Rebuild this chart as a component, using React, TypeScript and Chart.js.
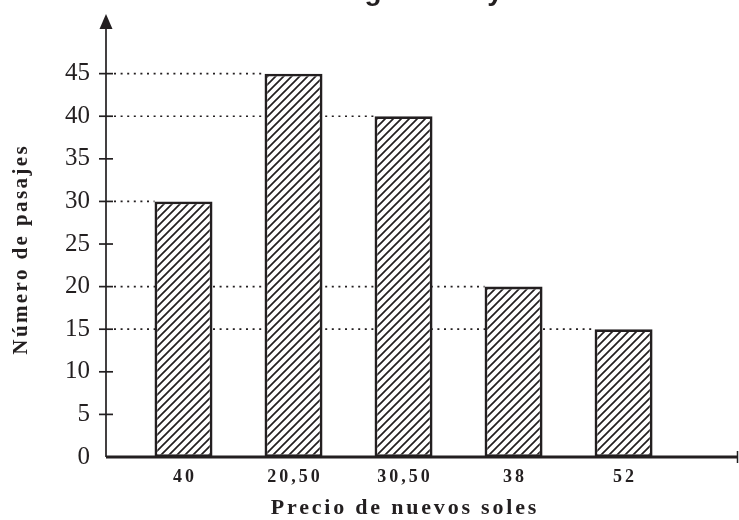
import React, { useEffect, useRef } from "react";
import { Chart, registerables } from "chart.js";

Chart.register(...registerables);

const categories = ["40", "20,50", "30,50", "38", "52"];
const pasajes = [30, 45, 40, 20, 15];
const yMaxTick = 45;
const chartTitle = "Ventas según mes y año";
const xTitle = "Precio de nuevos soles";
const yTitle = "Número de pasajes";

const INK = "#231f20";

function makeHatch(): CanvasPattern | string {
  const c = document.createElement("canvas");
  c.width = 8;
  c.height = 8;
  const g = c.getContext("2d");
  if (!g) return "#fff";
  g.fillStyle = "#ffffff";
  g.fillRect(0, 0, 8, 8);
  g.strokeStyle = INK;
  g.lineWidth = 1.7;
  g.beginPath();
  g.moveTo(-2, 10);
  g.lineTo(10, -2);
  g.moveTo(-2, 2);
  g.lineTo(2, -2);
  g.moveTo(6, 10);
  g.lineTo(10, 6);
  g.stroke();
  const p = g.createPattern(c, "repeat");
  return p || "#fff";
}

const decorPlugin = {
  id: "decor",
  beforeDatasetsDraw(chart: any) {
    const { ctx, chartArea } = chart;
    const meta = chart.getDatasetMeta(0);
    ctx.save();
    ctx.strokeStyle = INK;
    ctx.lineWidth = 1.7;
    ctx.setLineDash([2, 4.6]);
    meta.data.forEach((el: any) => {
      const p = el.getProps(["x", "y", "width"], true);
      ctx.beginPath();
      ctx.moveTo(chartArea.left + 8, p.y);
      ctx.lineTo(p.x - p.width / 2, p.y);
      ctx.stroke();
    });
    ctx.restore();
  },
  afterDatasetsDraw(chart: any) {
    const { ctx, chartArea, scales } = chart;
    const { left, right, top, bottom } = chartArea;
    const yS = scales.y;
    const xS = scales.x;
    ctx.save();
    ctx.strokeStyle = INK;
    ctx.fillStyle = INK;
    // y axis
    ctx.lineWidth = 1.7;
    ctx.beginPath();
    ctx.moveTo(left, bottom);
    ctx.lineTo(left, top + 10);
    ctx.stroke();
    ctx.beginPath();
    ctx.moveTo(left, top);
    ctx.lineTo(left - 6.5, top + 15);
    ctx.lineTo(left + 6.5, top + 15);
    ctx.closePath();
    ctx.fill();
    // y tick marks
    yS.ticks.forEach((t: any) => {
      if (t.value <= 0) return;
      const y = yS.getPixelForValue(t.value);
      ctx.beginPath();
      ctx.moveTo(left - 7, y);
      ctx.lineTo(left + 7, y);
      ctx.stroke();
    });
    // x axis
    ctx.lineWidth = 3;
    ctx.beginPath();
    ctx.moveTo(left, bottom);
    ctx.lineTo(right, bottom);
    ctx.stroke();
    ctx.lineWidth = 1.5;
    ctx.beginPath();
    ctx.moveTo(right - 0.5, bottom - 6);
    ctx.lineTo(right - 0.5, bottom + 6);
    ctx.stroke();
    // x labels
    const sp = 3;
    ctx.font = "bold 18px 'Liberation Serif'";
    (ctx as any).letterSpacing = sp + "px";
    ctx.textAlign = "center";
    ctx.textBaseline = "middle";
    categories.forEach((c, i) => {
      const x = xS.getPixelForValue(i + 1);
      ctx.fillText(c, x + sp / 2, bottom + 20);
    });
    // x title
    const first = xS.getPixelForValue(1);
    const last = xS.getPixelForValue(categories.length);
    ctx.font = "bold 22px 'Liberation Serif'";
    (ctx as any).letterSpacing = "2.8px";
    ctx.fillText(xTitle, (first + last) / 2 + 1.4, bottom + 51);
    // y title
    ctx.save();
    ctx.translate(22, (top + bottom) / 2 + 15);
    ctx.rotate(-Math.PI / 2);
    ctx.font = "bold 21px 'Liberation Serif'";
    (ctx as any).letterSpacing = "2.4px";
    ctx.fillText(yTitle, 1.2, 0);
    ctx.restore();
    // chart title (cut off at top)
    (ctx as any).letterSpacing = "0px";
    ctx.font = "bold 28px 'Liberation Sans'";
    ctx.textAlign = "left";
    ctx.textBaseline = "alphabetic";
    const gi = chartTitle.indexOf("g");
    const pre = ctx.measureText(chartTitle.slice(0, gi)).width;
    const gw = ctx.measureText("g").width;
    ctx.fillText(chartTitle, 373 - pre - gw / 2, 0);
    ctx.restore();
  },
};

export default function App() {
  const ref = useRef<HTMLCanvasElement | null>(null);
  useEffect(() => {
    if (!ref.current) return;
    const hatch = makeHatch();
    const chart = new Chart(ref.current, {
      type: "bar",
      data: {
        datasets: [
          {
            data: pasajes.map((v, i) => ({ x: i + 1, y: v })),
            backgroundColor: hatch as any,
            borderColor: INK,
            borderWidth: 2.8,
            borderSkipped: false,
            barPercentage: 0.527,
            categoryPercentage: 1,
          },
        ],
      },
      options: {
        animation: false,
        responsive: true,
        maintainAspectRatio: false,
        layout: { padding: { top: 14, right: 1, left: 0, bottom: 0 } },
        plugins: {
          legend: { display: false },
          tooltip: { enabled: false },
          title: { display: false },
        },
        scales: {
          x: {
            type: "linear",
            offset: false,
            min: 0.2955,
            max: 6.04,
            grid: { display: false, drawTicks: false, offset: false },
            border: { display: false },
            ticks: { display: false },
            afterBuildTicks: (s: any) => {
              s.ticks = categories.map((_, i) => ({ value: i + 1 }));
            },
            afterFit: (s: any) => {
              s.height = 63;
              s.paddingLeft = 0;
              s.paddingRight = 0;
            },
          },
          y: {
            min: 0,
            max: 52,
            grid: { display: false, drawTicks: false },
            border: { display: false },
            ticks: {
              stepSize: 5,
              padding: 16,
              color: INK,
              font: { family: "'Liberation Serif'", size: 25 },
            },
            afterBuildTicks: (s: any) => {
              s.ticks = s.ticks.filter((t: any) => t.value <= yMaxTick);
            },
            afterFit: (s: any) => {
              s.width = 106;
              s.paddingTop = 0;
              s.paddingBottom = 0;
            },
          },
        },
      },
      plugins: [decorPlugin],
    });
    return () => chart.destroy();
  }, []);
  return (
    <div style={{ position: "fixed", left: 0, top: 0, width: 739, height: 520, background: "#fff" }}>
      <canvas ref={ref} />
    </div>
  );
}
